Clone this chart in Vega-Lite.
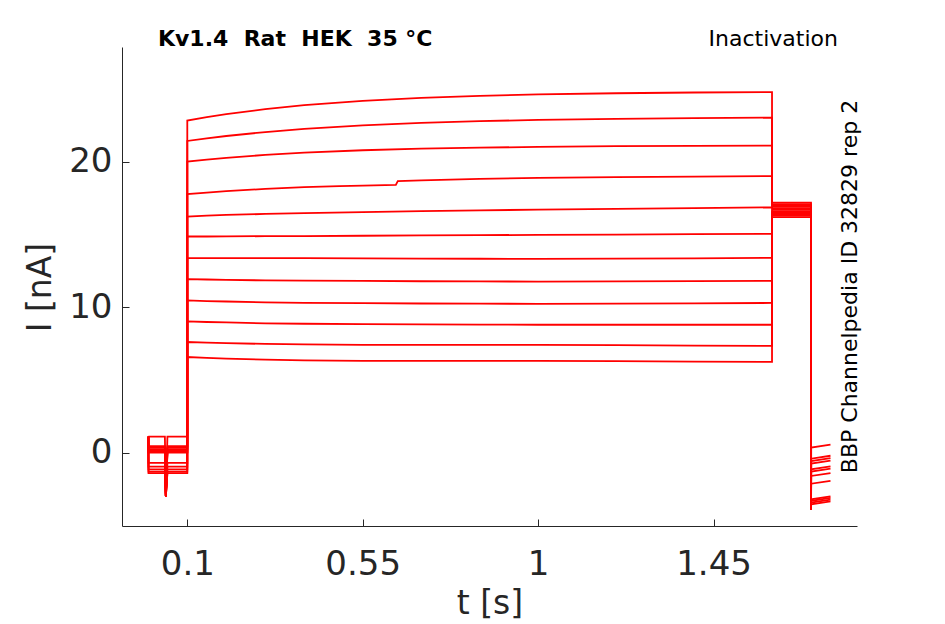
{
  "$schema": "https://vega.github.io/schema/vega-lite/v6.json",
  "width": 735,
  "height": 479,
  "autosize": "none",
  "padding": {"left": 122, "top": 47, "right": 88, "bottom": 98},
  "background": "white",
  "config": {
    "view": {"stroke": null},
    "font": "DejaVu Sans",
    "axis": {
      "domainColor": "#262626",
      "tickColor": "#262626",
      "labelColor": "#262626",
      "titleColor": "#262626",
      "labelFont": "DejaVu Sans",
      "titleFont": "DejaVu Sans",
      "labelFontSize": 34,
      "titleFontSize": 33,
      "titleFontWeight": "normal",
      "grid": false,
      "tickSize": -7,
      "domainWidth": 1,
      "tickWidth": 1
    }
  },
  "datasets": {
    "traces": [
      {"s":1,"t":0,"I":1.1},{"s":1,"t":0.0005,"I":1.1},{"s":1,"t":0.0425,"I":1.1},{"s":1,"t":0.045,"I":-3.0},{"s":1,"t":0.049,"I":1.1},{"s":1,"t":0.1,"I":1.1},
      {"s":1,"t":0.1,"I":22.84},{"s":1,"t":0.15,"I":23.08},{"s":1,"t":0.2,"I":23.28},{"s":1,"t":0.3,"I":23.63},{"s":1,"t":0.4,"I":23.9},{"s":1,"t":0.55,"I":24.2},{"s":1,"t":0.7,"I":24.4},{"s":1,"t":0.85,"I":24.54},{"s":1,"t":1.0,"I":24.64},{"s":1,"t":1.2,"I":24.72},{"s":1,"t":1.4,"I":24.77},{"s":1,"t":1.6,"I":24.8},
      {"s":1,"t":1.6,"I":17.2},{"s":1,"t":1.7,"I":17.2},{"s":1,"t":1.7,"I":-3.9},{"s":1,"t":1.7005,"I":0.35},{"s":1,"t":1.75,"I":0.55},

      {"s":2,"t":0,"I":1.1},{"s":2,"t":0.0005,"I":0.45},{"s":2,"t":0.0425,"I":0.45},{"s":2,"t":0.045,"I":-3.0},{"s":2,"t":0.049,"I":0.45},{"s":2,"t":0.1,"I":0.45},
      {"s":2,"t":0.1,"I":21.44},{"s":2,"t":0.15,"I":21.62},{"s":2,"t":0.2,"I":21.78},{"s":2,"t":0.3,"I":22.05},{"s":2,"t":0.4,"I":22.27},{"s":2,"t":0.55,"I":22.51},{"s":2,"t":0.7,"I":22.68},{"s":2,"t":0.85,"I":22.8},{"s":2,"t":1.0,"I":22.89},{"s":2,"t":1.2,"I":22.96},{"s":2,"t":1.4,"I":23.01},{"s":2,"t":1.6,"I":23.04},
      {"s":2,"t":1.6,"I":17.1},{"s":2,"t":1.7,"I":17.1},{"s":2,"t":1.7,"I":-3.9},{"s":2,"t":1.7005,"I":-0.41},{"s":2,"t":1.75,"I":-0.21},

      {"s":3,"t":0,"I":1.1},{"s":3,"t":0.0005,"I":0.35},{"s":3,"t":0.0425,"I":0.35},{"s":3,"t":0.045,"I":-3.0},{"s":3,"t":0.049,"I":0.35},{"s":3,"t":0.1,"I":0.35},
      {"s":3,"t":0.1,"I":20.02},{"s":3,"t":0.15,"I":20.16},{"s":3,"t":0.2,"I":20.28},{"s":3,"t":0.3,"I":20.48},{"s":3,"t":0.4,"I":20.63},{"s":3,"t":0.55,"I":20.8},{"s":3,"t":0.7,"I":20.91},{"s":3,"t":0.85,"I":20.98},{"s":3,"t":1.0,"I":21.03},{"s":3,"t":1.2,"I":21.08},{"s":3,"t":1.4,"I":21.1},{"s":3,"t":1.6,"I":21.12},
      {"s":3,"t":1.6,"I":17.0},{"s":3,"t":1.7,"I":17.0},{"s":3,"t":1.7,"I":-3.9},{"s":3,"t":1.7005,"I":-0.57},{"s":3,"t":1.75,"I":-0.37},

      {"s":4,"t":0,"I":1.1},{"s":4,"t":0.0005,"I":0.25},{"s":4,"t":0.0425,"I":0.25},{"s":4,"t":0.045,"I":-3.0},{"s":4,"t":0.049,"I":0.25},{"s":4,"t":0.1,"I":0.25},
      {"s":4,"t":0.1,"I":17.78},{"s":4,"t":0.15,"I":17.89},{"s":4,"t":0.2,"I":17.99},{"s":4,"t":0.3,"I":18.14},{"s":4,"t":0.4,"I":18.26},{"s":4,"t":0.49,"I":18.33},{"s":4,"t":0.55,"I":18.37},{"s":4,"t":0.635,"I":18.42},{"s":4,"t":0.64,"I":18.68},{"s":4,"t":0.7,"I":18.73},{"s":4,"t":0.85,"I":18.83},{"s":4,"t":1.0,"I":18.9},{"s":4,"t":1.2,"I":18.95},{"s":4,"t":1.4,"I":18.99},{"s":4,"t":1.6,"I":19.02},
      {"s":4,"t":1.6,"I":16.9},{"s":4,"t":1.7,"I":16.9},{"s":4,"t":1.7,"I":-3.9},{"s":4,"t":1.7005,"I":-0.75},{"s":4,"t":1.75,"I":-0.55},

      {"s":5,"t":0,"I":1.1},{"s":5,"t":0.0005,"I":0.15},{"s":5,"t":0.0425,"I":0.15},{"s":5,"t":0.045,"I":-3.0},{"s":5,"t":0.049,"I":0.15},{"s":5,"t":0.1,"I":0.15},
      {"s":5,"t":0.1,"I":16.24},{"s":5,"t":0.15,"I":16.3},{"s":5,"t":0.2,"I":16.35},{"s":5,"t":0.3,"I":16.42},{"s":5,"t":0.4,"I":16.48},{"s":5,"t":0.55,"I":16.55},{"s":5,"t":0.7,"I":16.62},{"s":5,"t":0.85,"I":16.67},{"s":5,"t":1.0,"I":16.71},{"s":5,"t":1.2,"I":16.77},{"s":5,"t":1.4,"I":16.82},{"s":5,"t":1.6,"I":16.87},
      {"s":5,"t":1.6,"I":16.8},{"s":5,"t":1.7,"I":16.8},{"s":5,"t":1.7,"I":-3.9},{"s":5,"t":1.7005,"I":-1.14},{"s":5,"t":1.75,"I":-0.94},

      {"s":6,"t":0,"I":1.1},{"s":6,"t":0.0005,"I":0.05},{"s":6,"t":0.0425,"I":0.05},{"s":6,"t":0.045,"I":-3.0},{"s":6,"t":0.049,"I":0.05},{"s":6,"t":0.1,"I":0.05},
      {"s":6,"t":0.1,"I":14.87},{"s":6,"t":0.15,"I":14.87},{"s":6,"t":0.2,"I":14.88},{"s":6,"t":0.3,"I":14.89},{"s":6,"t":0.4,"I":14.9},{"s":6,"t":0.55,"I":14.92},{"s":6,"t":0.7,"I":14.94},{"s":6,"t":0.85,"I":14.96},{"s":6,"t":1.0,"I":14.98},{"s":6,"t":1.2,"I":15.0},{"s":6,"t":1.4,"I":15.03},{"s":6,"t":1.6,"I":15.05},
      {"s":6,"t":1.6,"I":16.7},{"s":6,"t":1.7,"I":16.7},{"s":6,"t":1.7,"I":-3.9},{"s":6,"t":1.7005,"I":-1.3},{"s":6,"t":1.75,"I":-1.1},

      {"s":7,"t":0,"I":1.1},{"s":7,"t":0.0005,"I":0.0},{"s":7,"t":0.0425,"I":0.0},{"s":7,"t":0.045,"I":-3.0},{"s":7,"t":0.049,"I":0.0},{"s":7,"t":0.1,"I":0.0},
      {"s":7,"t":0.1,"I":13.38},{"s":7,"t":0.15,"I":13.38},{"s":7,"t":0.2,"I":13.38},{"s":7,"t":0.3,"I":13.38},{"s":7,"t":0.4,"I":13.38},{"s":7,"t":0.55,"I":13.37},{"s":7,"t":0.7,"I":13.35},{"s":7,"t":0.85,"I":13.34},{"s":7,"t":1.0,"I":13.33},{"s":7,"t":1.2,"I":13.35},{"s":7,"t":1.4,"I":13.37},{"s":7,"t":1.6,"I":13.4},
      {"s":7,"t":1.6,"I":16.6},{"s":7,"t":1.7,"I":16.6},{"s":7,"t":1.7,"I":-3.9},{"s":7,"t":1.7005,"I":-1.6},{"s":7,"t":1.75,"I":-1.4},

      {"s":8,"t":0,"I":1.1},{"s":8,"t":0.0005,"I":-0.7},{"s":8,"t":0.0425,"I":-0.7},{"s":8,"t":0.045,"I":-3.0},{"s":8,"t":0.049,"I":-0.7},{"s":8,"t":0.1,"I":-0.7},
      {"s":8,"t":0.1,"I":11.94},{"s":8,"t":0.15,"I":11.91},{"s":8,"t":0.2,"I":11.89},{"s":8,"t":0.3,"I":11.85},{"s":8,"t":0.4,"I":11.83},{"s":8,"t":0.55,"I":11.81},{"s":8,"t":0.7,"I":11.79},{"s":8,"t":0.85,"I":11.78},{"s":8,"t":1.0,"I":11.77},{"s":8,"t":1.2,"I":11.78},{"s":8,"t":1.4,"I":11.8},{"s":8,"t":1.6,"I":11.82},
      {"s":8,"t":1.6,"I":16.5},{"s":8,"t":1.7,"I":16.5},{"s":8,"t":1.7,"I":-3.9},{"s":8,"t":1.7005,"I":-2.13},{"s":8,"t":1.75,"I":-1.93},

      {"s":9,"t":0,"I":1.1},{"s":9,"t":0.0005,"I":-0.95},{"s":9,"t":0.0425,"I":-0.95},{"s":9,"t":0.045,"I":-3.0},{"s":9,"t":0.049,"I":-0.95},{"s":9,"t":0.1,"I":-0.95},
      {"s":9,"t":0.1,"I":10.47},{"s":9,"t":0.15,"I":10.43},{"s":9,"t":0.2,"I":10.4},{"s":9,"t":0.3,"I":10.34},{"s":9,"t":0.4,"I":10.31},{"s":9,"t":0.55,"I":10.28},{"s":9,"t":0.7,"I":10.26},{"s":9,"t":0.85,"I":10.25},{"s":9,"t":1.0,"I":10.24},{"s":9,"t":1.2,"I":10.25},{"s":9,"t":1.4,"I":10.27},{"s":9,"t":1.6,"I":10.3},
      {"s":9,"t":1.6,"I":16.45},{"s":9,"t":1.7,"I":16.45},{"s":9,"t":1.7,"I":-3.9},{"s":9,"t":1.7005,"I":-3.2},{"s":9,"t":1.75,"I":-3.0},

      {"s":10,"t":0,"I":1.1},{"s":10,"t":0.0005,"I":-1.15},{"s":10,"t":0.0425,"I":-1.15},{"s":10,"t":0.045,"I":-3.0},{"s":10,"t":0.049,"I":-1.15},{"s":10,"t":0.1,"I":-1.15},
      {"s":10,"t":0.1,"I":9.03},{"s":10,"t":0.15,"I":8.99},{"s":10,"t":0.2,"I":8.96},{"s":10,"t":0.3,"I":8.9},{"s":10,"t":0.4,"I":8.87},{"s":10,"t":0.55,"I":8.84},{"s":10,"t":0.7,"I":8.82},{"s":10,"t":0.85,"I":8.81},{"s":10,"t":1.0,"I":8.8},{"s":10,"t":1.2,"I":8.8},{"s":10,"t":1.4,"I":8.8},{"s":10,"t":1.6,"I":8.8},
      {"s":10,"t":1.6,"I":16.4},{"s":10,"t":1.7,"I":16.4},{"s":10,"t":1.7,"I":-3.9},{"s":10,"t":1.7005,"I":-3.31},{"s":10,"t":1.75,"I":-3.11},

      {"s":11,"t":0,"I":1.1},{"s":11,"t":0.0005,"I":-1.3},{"s":11,"t":0.0425,"I":-1.3},{"s":11,"t":0.045,"I":-3.0},{"s":11,"t":0.049,"I":-1.3},{"s":11,"t":0.1,"I":-1.3},
      {"s":11,"t":0.1,"I":7.61},{"s":11,"t":0.15,"I":7.57},{"s":11,"t":0.2,"I":7.54},{"s":11,"t":0.3,"I":7.48},{"s":11,"t":0.4,"I":7.45},{"s":11,"t":0.55,"I":7.42},{"s":11,"t":0.7,"I":7.42},{"s":11,"t":0.85,"I":7.42},{"s":11,"t":1.0,"I":7.42},{"s":11,"t":1.2,"I":7.4},{"s":11,"t":1.4,"I":7.37},{"s":11,"t":1.6,"I":7.35},
      {"s":11,"t":1.6,"I":16.3},{"s":11,"t":1.7,"I":16.3},{"s":11,"t":1.7,"I":-3.9},{"s":11,"t":1.7005,"I":-3.43},{"s":11,"t":1.75,"I":-3.23},

      {"s":12,"t":0,"I":1.1},{"s":12,"t":0.0005,"I":-1.4},{"s":12,"t":0.0425,"I":-1.4},{"s":12,"t":0.045,"I":-3.0},{"s":12,"t":0.049,"I":-1.4},{"s":12,"t":0.1,"I":-1.4},
      {"s":12,"t":0.1,"I":6.58},{"s":12,"t":0.15,"I":6.52},{"s":12,"t":0.2,"I":6.47},{"s":12,"t":0.3,"I":6.4},{"s":12,"t":0.4,"I":6.35},{"s":12,"t":0.55,"I":6.32},{"s":12,"t":0.7,"I":6.32},{"s":12,"t":0.85,"I":6.32},{"s":12,"t":1.0,"I":6.32},{"s":12,"t":1.2,"I":6.3},{"s":12,"t":1.4,"I":6.27},{"s":12,"t":1.6,"I":6.25},
      {"s":12,"t":1.6,"I":16.2},{"s":12,"t":1.7,"I":16.2},{"s":12,"t":1.7,"I":-3.9},{"s":12,"t":1.7005,"I":-3.55},{"s":12,"t":1.75,"I":-3.35}
    ],
    "titleNote": [{"label": "Kv1.4\u00a0 Rat\u00a0 HEK\u00a0 35 °C", "t": 0.0248, "I": 27.97}],
    "rightNote": [{"label": "Inactivation", "t": 1.769, "I": 27.97}],
    "sideNote": [{"label": "BBP Channelpedia ID 32829 rep 2", "t": 1.80, "I": 11.43}]
  },
  "encoding": {
    "x": {
      "field": "t", "type": "quantitative",
      "scale": {"domain": [-0.0675, 1.818], "nice": false, "zero": false},
      "axis": {
        "title": "t [s]",
        "values": [0.1, 0.55, 1, 1.45],
        "format": ".3~g",
        "labelPadding": 28,
        "titleY": 77,
        "titleBaseline": "middle"
      }
    },
    "y": {
      "field": "I", "type": "quantitative",
      "scale": {"domain": [-5.04, 27.9], "nice": false, "zero": false},
      "axis": {
        "title": "I [nA]",
        "values": [0, 10, 20],
        "labelPadding": 17,
        "titleX": -82,
        "titleY": 240,
        "titleAngle": 270,
        "titleAlign": "center",
        "titleBaseline": "middle"
      }
    }
  },
  "layer": [
    {
      "data": {"name": "traces"},
      "transform": [{"window": [{"op": "row_number", "as": "k"}], "groupby": ["s"]}],
      "mark": {"type": "line", "color": "#ff0000", "strokeWidth": 1.8, "clip": true},
      "encoding": {
        "detail": {"field": "s", "type": "nominal"},
        "order": {"field": "k", "type": "quantitative"}
      }
    },
    {
      "data": {"name": "titleNote"},
      "mark": {"type": "text", "align": "left", "baseline": "alphabetic", "fontSize": 22, "fontWeight": "bold", "color": "#000000", "font": "DejaVu Sans"},
      "encoding": {"text": {"field": "label"}}
    },
    {
      "data": {"name": "rightNote"},
      "mark": {"type": "text", "align": "right", "baseline": "alphabetic", "fontSize": 22, "color": "#000000", "font": "DejaVu Sans"},
      "encoding": {"text": {"field": "label"}}
    },
    {
      "data": {"name": "sideNote"},
      "mark": {"type": "text", "align": "center", "baseline": "middle", "angle": 270, "fontSize": 22, "color": "#000000", "font": "DejaVu Sans"},
      "encoding": {"text": {"field": "label"}}
    }
  ]
}
